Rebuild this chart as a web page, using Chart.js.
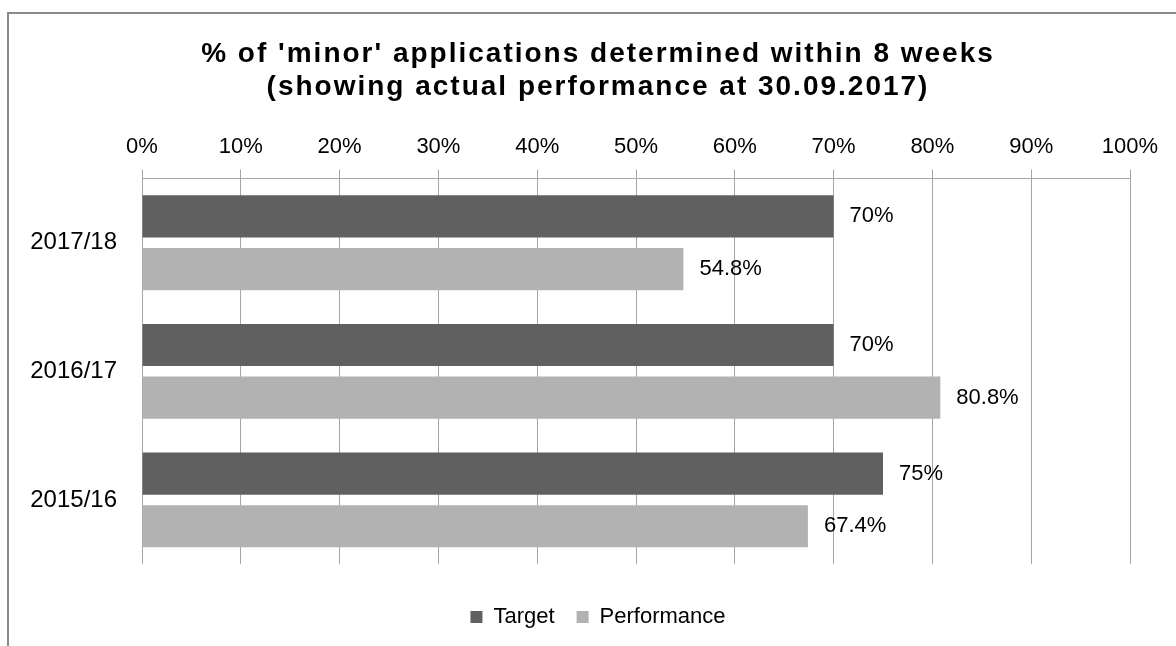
<!DOCTYPE html>
<html>
<head>
<meta charset="utf-8">
<script src="https://cdn.jsdelivr.net/npm/chart.js@4/dist/chart.umd.min.js"></script>
<style>
  html, body { margin: 0; padding: 0; background: #fff; overflow: hidden; }
  #wrap { position: relative; width: 1176px; height: 646px; overflow: hidden; }
  #frame { position: absolute; left: 7px; top: 12px; width: 1300px; height: 800px;
           border-left: 2px solid #898989; border-top: 2px solid #898989; }
  #chart { position: absolute; left: 0; top: 0; }
</style>
</head>
<body>
<div id="wrap">
  <div id="frame"></div>
  <canvas id="chart" width="1196" height="646"></canvas>
</div>
<script>
// values
const years = ['2017/18', '2016/17', '2015/16'];
const target = [70, 70, 75];
const performance = [54.8, 80.8, 67.4];
const percentTicks = [0, 10, 20, 30, 40, 50, 60, 70, 80, 90, 100];

Chart.defaults.font.family = '"Liberation Sans", Arial, sans-serif';
Chart.defaults.color = '#000';

// labels to the right of each bar
const valueLabels = {
  id: 'valueLabels',
  afterDatasetsDraw(chart) {
    const ctx = chart.ctx;
    ctx.save();
    ctx.font = '22px "Liberation Sans", Arial, sans-serif';
    ctx.fillStyle = '#000';
    ctx.textBaseline = 'middle';
    ctx.textAlign = 'left';
    chart.data.datasets.forEach((ds, i) => {
      chart.getDatasetMeta(i).data.forEach((bar, j) => {
        ctx.fillText(ds.data[j] + '%', bar.x + 16, bar.y);
      });
    });
    ctx.restore();
  }
};

// wider title tracking, and let the year labels run left of the narrow axis box
const tweaks = {
  id: 'tweaks',
  afterInit(chart) {
    const block = chart.titleBlock;
    const draw = block.draw.bind(block);
    block.draw = area => {
      chart.ctx.save();
      chart.ctx.letterSpacing = '2px';
      draw(area);
      chart.ctx.restore();
    };
  },
  afterLayout(chart) {
    chart.scales.y.left = 0;
  }
};

const ctx = document.getElementById('chart').getContext('2d');
new Chart(ctx, {
  type: 'bar',
  data: {
    labels: years,
    datasets: [{
      label: 'Target',
      data: target,
      backgroundColor: '#606060',
      borderWidth: 0,
      categoryPercentage: 0.82,
      barPercentage: 0.8
    }, {
      label: 'Performance',
      data: performance,
      backgroundColor: '#b2b2b2',
      borderWidth: 0,
      categoryPercentage: 0.82,
      barPercentage: 0.8
    }]
  },
  options: {
    indexAxis: 'y',
    responsive: false,
    animation: false,
    layout: { padding: { top: 14, left: 66, right: 66, bottom: 8 } },
    scales: {
      x: {
        position: 'top',
        min: 0,
        max: 100,
        afterBuildTicks: axis => { axis.ticks = percentTicks.map(v => ({ value: v })); },
        ticks: {
          callback: v => v + '%',
          font: { size: 22 },
          padding: 9,
          maxRotation: 0,
          autoSkip: false
        },
        grid: { color: '#a6a6a6', tickLength: 9 },
        border: { color: '#a6a6a6' }
      },
      y: {
        grid: { display: false, drawTicks: false },
        border: { display: false },
        ticks: { font: { size: 24 }, padding: 25 },
        afterFit: axis => { axis.width = 76; }
      }
    },
    plugins: {
      title: {
        display: true,
        text: ["% of 'minor' applications determined within 8 weeks",
               '(showing actual performance at 30.09.2017)'],
        font: { size: 28, weight: 'bold', lineHeight: 1.18 },
        color: '#000',
        padding: { top: 24, bottom: 21 }
      },
      legend: {
        position: 'bottom',
        title: { display: true, text: '', font: { size: 16.5 }, padding: 0 },
        labels: { boxWidth: 12, boxHeight: 12, padding: 22, font: { size: 22 } }
      },
      tooltip: { enabled: false }
    }
  },
  plugins: [valueLabels, tweaks]
});
</script>
</body>
</html>
